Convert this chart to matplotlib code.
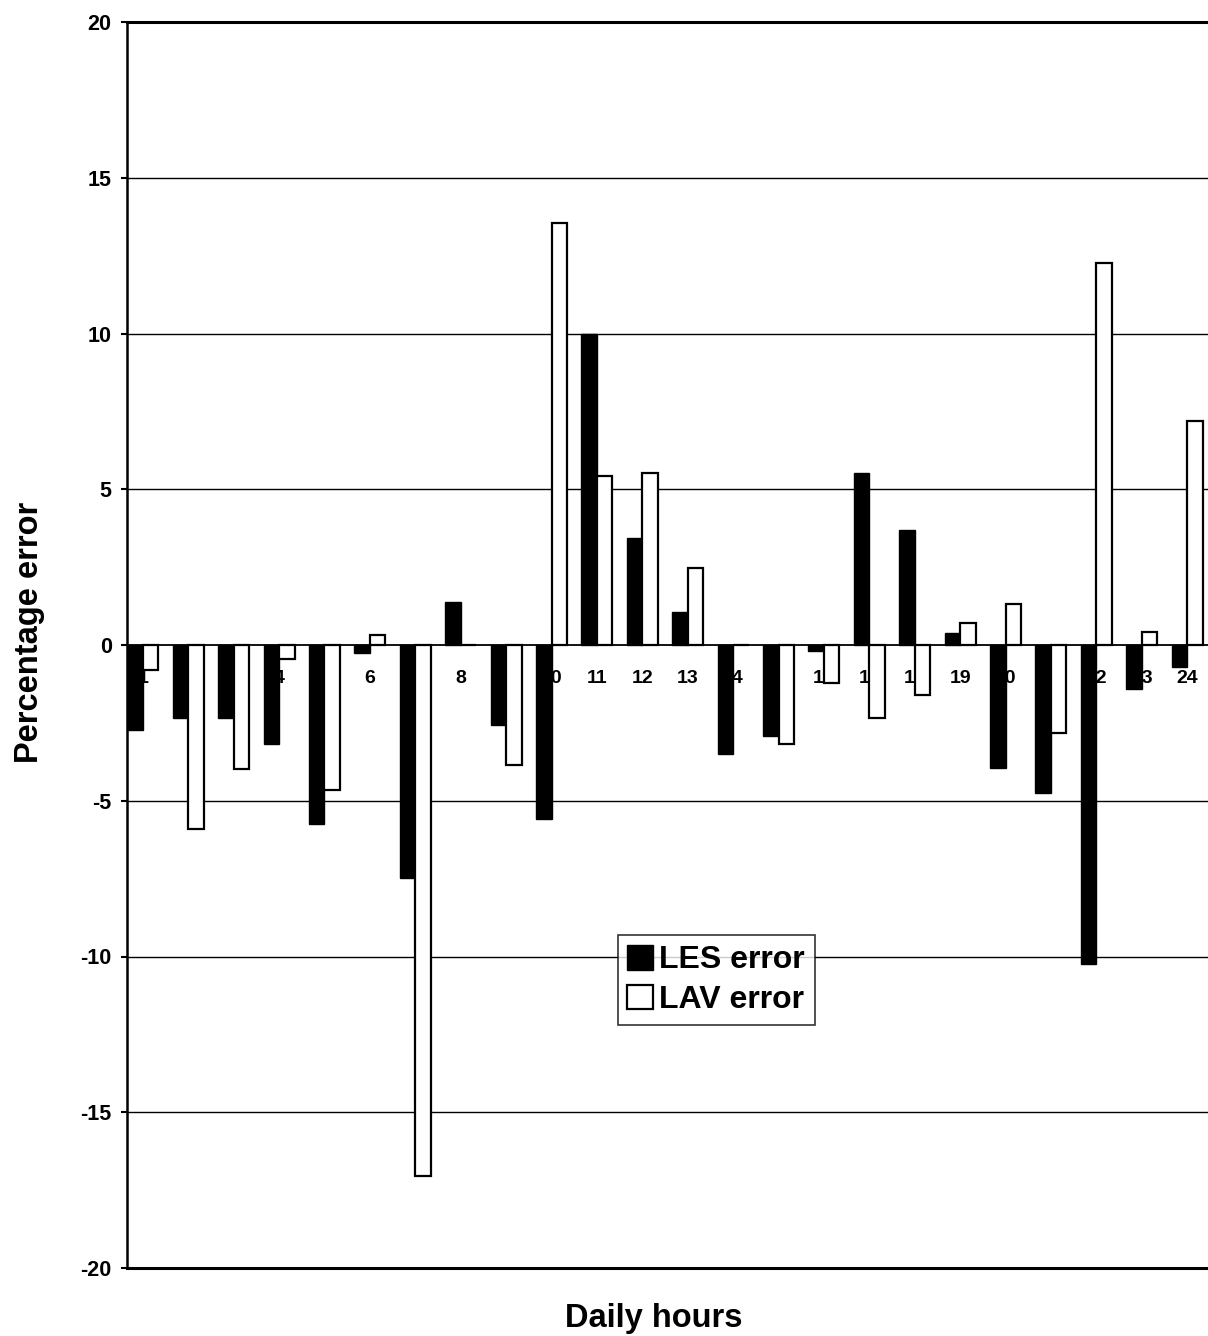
import matplotlib
matplotlib.use("Agg")
import matplotlib.pyplot as plt
import numpy as np

plt.rcParams['font.family'] = ['Liberation Sans', 'DejaVu Sans']

hours = [str(h) for h in range(1, 25)]
les_error = [-2.73, -2.35, -2.35, -3.18, -5.75, -0.27, -7.48, 1.38, -2.57, -5.59,
             10.0, 3.42, 1.06, -3.5, -2.92, -0.2, 5.52, 3.7, 0.38, -3.94,
             -4.75, -10.25, -1.42, -0.7]
lav_error = [-0.8, -5.9, -3.98, -0.45, -4.65, 0.32, -17.05, 0.0, -3.85, 13.55,
             5.42, 5.52, 2.47, 0.0, -3.18, -1.22, -2.35, -1.6, 0.72, 1.32,
             -2.82, 12.26, 0.42, 7.19]
yticks = [-20, -15, -10, -5, 0, 5, 10, 15, 20]

W, H = 1208, 1336
fig = plt.figure(figsize=(W / 100, H / 100), dpi=100)
ax = fig.add_axes([127 / W, (H - 1268) / H, (W - 127) / W, 1246 / H])

x = np.arange(1, len(hours) + 1)
bw = 0.34
ax.bar(x - bw / 2, les_error, width=bw, color='black', edgecolor='black',
       linewidth=1.0, label='LES error', zorder=3)
ax.bar(x + bw / 2, lav_error, width=bw, color='white', edgecolor='black',
       linewidth=1.6, label='LAV error', zorder=3)

ax.set_xlim(0.65, 24.46)
ax.set_ylim(-20, 20)

# gridlines
for v in [-15, -10, -5, 5, 10, 15]:
    ax.axhline(v, color='black', linewidth=1.0, zorder=1)
ax.axhline(-20, color='black', linewidth=2.2, zorder=4, clip_on=False)

ax.spines['right'].set_visible(False)
ax.spines['top'].set_linewidth(2.2)
ax.spines['left'].set_linewidth(1.8)
ax.spines['bottom'].set_position(('data', 0))
ax.spines['bottom'].set_linewidth(1.3)
ax.spines['bottom'].set_zorder(2)

ax.set_axisbelow(True)
ax.set_xticks(x)
ax.set_xticklabels(hours, fontsize=14, fontweight='bold')
ax.tick_params(axis='x', length=0, pad=18)
ax.set_yticks(yticks)
ax.set_yticklabels([str(v) for v in yticks], fontsize=15.5, fontweight='bold')
ax.tick_params(axis='y', direction='out', length=4, width=1.5, pad=7)

leg = ax.legend(loc='center', bbox_to_anchor=(0.545, 0.231),
                prop={'size': 23, 'weight': 'bold'},
                frameon=True, fancybox=False, edgecolor='black',
                handlelength=0.8, handleheight=0.8, handletextpad=0.2,
                labelspacing=0.3, borderpad=0.3, borderaxespad=0)
leg.get_frame().set_linewidth(1.2)
leg.set_zorder(5)

fig.text(654 / W, 1 - 1318 / H, 'Daily hours', ha='center', va='center',
         fontsize=23.5, fontweight='bold')
fig.text(30 / W, 1 - 632 / H, 'Percentage error', ha='center', va='center',
         rotation=90, fontsize=23.5, fontweight='bold')

fig.savefig('out.png', dpi=100, facecolor='white')
